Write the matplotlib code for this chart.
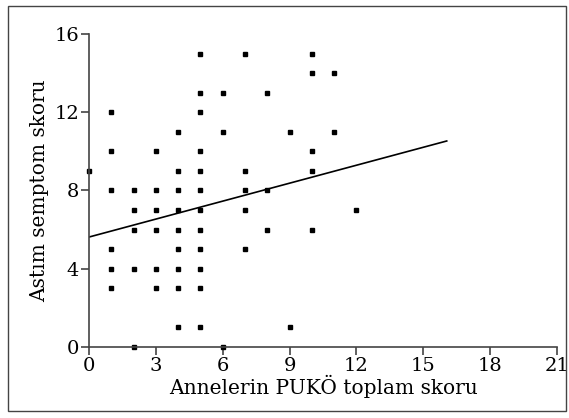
import matplotlib
matplotlib.use("Agg")
import matplotlib.pyplot as plt
from matplotlib.patches import Rectangle

# -------------------------------
# Data
# -------------------------------
puko_x = [0,
          1, 1, 1, 1, 1, 1,
          2, 2, 2, 2, 2,
          3, 3, 3, 3, 3, 3,
          4, 4, 4, 4, 4, 4, 4, 4, 4,
          5, 5, 5, 5, 5, 5, 5, 5, 5, 5, 5, 5,
          6, 6, 6,
          7, 7, 7, 7, 7,
          8, 8, 8,
          9, 9,
          10, 10, 10, 10, 10,
          11, 11,
          12]
astim_y = [9,
           12, 10, 8, 5, 4, 3,
           8, 7, 6, 4, 0,
           10, 8, 7, 6, 4, 3,
           11, 9, 8, 7, 6, 5, 4, 3, 1,
           15, 13, 12, 10, 9, 8, 7, 6, 5, 4, 3, 1,
           13, 11, 0,
           15, 9, 8, 7, 5,
           13, 8, 6,
           11, 1,
           15, 14, 10, 9, 6,
           14, 11,
           7]

# regression line end points
fit_x = [0, 16.05]
fit_y = [5.62, 10.53]

x_ticks = [0, 3, 6, 9, 12, 15, 18, 21]
y_ticks = [0, 4, 8, 12, 16]

# -------------------------------
# Plot
# -------------------------------
plt.rcParams["font.family"] = "DejaVu Serif"

fig = plt.figure(figsize=(5.69, 4.18), dpi=100)
ax = fig.add_axes([0.1564, 0.1699, 0.8226, 0.7488])

ax.plot(puko_x, astim_y, "s", color="black", markersize=2.8, clip_on=False)
ax.plot(fit_x, fit_y, color="black", linewidth=1.2)

ax.set_xlim(0, 21)
ax.set_ylim(0, 16)
ax.set_xticks(x_ticks)
ax.set_yticks(y_ticks)

for side in ["top", "right"]:
    ax.spines[side].set_visible(False)
for side in ["left", "bottom"]:
    ax.spines[side].set_color("#444444")
    ax.spines[side].set_linewidth(1.2)

ax.tick_params(direction="out", length=6, width=1.2, color="#444444",
               labelsize=14, pad=1)

ax.set_xlabel("Annelerin PUKÖ toplam skoru", fontsize=14.5, labelpad=0)
ax.set_ylabel("Astım semptom skoru", fontsize=14.5, labelpad=4)

# outer frame around the figure
fig.patches.append(Rectangle((8 / 569, 7 / 418), 558 / 569, 405 / 418,
                             transform=fig.transFigure, fill=False,
                             edgecolor="#444444", linewidth=1.0))

plt.savefig("out.png", dpi=100)
plt.close()
